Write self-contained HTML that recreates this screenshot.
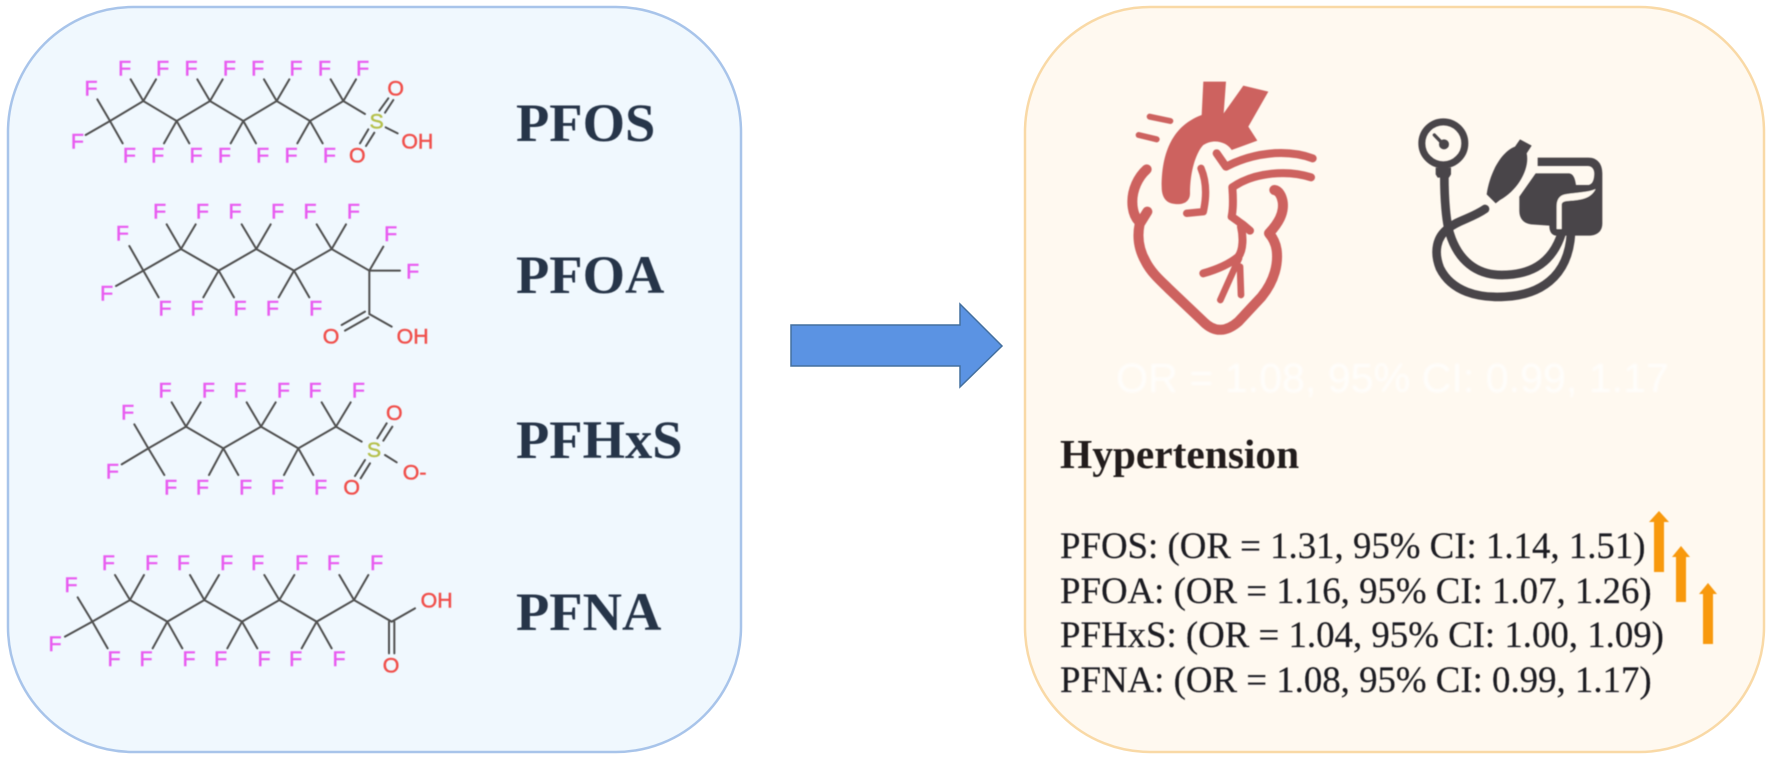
<!DOCTYPE html>
<html>
<head>
<meta charset="utf-8">
<style>
html,body{margin:0;padding:0;background:#fff;width:1772px;height:760px;overflow:hidden}
svg{display:block}
.b{fill:none;stroke:#4f4f4f;stroke-width:6;stroke-linecap:round}
.f{font-family:"Liberation Sans",sans-serif;font-size:64px;fill:#e85cf0;stroke:#e85cf0;stroke-width:1.6;text-anchor:middle}
.o{font-family:"Liberation Sans",sans-serif;font-size:64px;fill:#f0504c;stroke:#f0504c;stroke-width:1.4;text-anchor:middle}
.s{font-family:"Liberation Sans",sans-serif;font-size:64px;fill:#b5c04c;stroke:#b5c04c;stroke-width:1.4;text-anchor:middle}
.lab{font-family:"Liberation Serif",serif;font-weight:bold;font-size:54.5px;fill:#263448}
.t{font-family:"Liberation Serif",serif;font-size:36.85px;fill:#1f1f24;stroke:#1f1f24;stroke-width:.2}
</style>
</head>
<body>
<svg width="1772" height="760" viewBox="0 0 1772 760" xmlns="http://www.w3.org/2000/svg">
<defs><filter id="soft" x="-5%" y="-5%" width="110%" height="110%"><feGaussianBlur stdDeviation="0.45"/></filter>
<filter id="ghost" x="-5%" y="-20%" width="110%" height="140%"><feGaussianBlur stdDeviation="1"/></filter></defs>
<rect width="1772" height="760" fill="#fff"/>
<rect x="8" y="7" width="733" height="745" rx="125" ry="125" fill="#f0f8fe" stroke="#a8c4ea" stroke-width="2.5"/>
<rect x="1025" y="7" width="739" height="745" rx="125" ry="125" fill="#fff9f0" stroke="#f9d9a6" stroke-width="2.5"/>

<polygon points="791,325 960,325 960,304 1002,346 960,387 960,366 791,366" fill="#5b93e3" stroke="#44709f" stroke-width="1.5"/>

<g filter="url(#soft)">
<!-- PFOS / PFOA -->
<g transform="translate(40,40) scale(.33333)">
<path class="b" d="M210 243L310 183L410 243L510 183L610 243L710 183L810 243L910 183L975 222
M210 243L172 178M210 243L137 285M210 243L248 310
M310 183L272 118M310 183L348 118M410 243L372 310M410 243L448 310
M510 183L472 118M510 183L548 118M610 243L572 310M610 243L648 310
M710 183L672 118M710 183L748 118M810 243L772 310M810 243L848 310
M910 183L872 118M910 183L948 118"/>
<path class="b" d="M1018 212L1045 175M1035 218L1060 180M960 310L985 268M978 318L1003 278M1037 262L1073 280"/>
<g transform="translate(0,23)">
<text class="f" x="153" y="143">F</text><text class="f" x="112" y="303">F</text><text class="f" x="268" y="345">F</text>
<text class="f" x="254" y="83">F</text><text class="f" x="368" y="83">F</text><text class="f" x="353" y="345">F</text><text class="f" x="468" y="345">F</text>
<text class="f" x="453" y="83">F</text><text class="f" x="568" y="83">F</text><text class="f" x="553" y="345">F</text><text class="f" x="668" y="345">F</text>
<text class="f" x="653" y="83">F</text><text class="f" x="768" y="83">F</text><text class="f" x="753" y="345">F</text><text class="f" x="868" y="345">F</text>
<text class="f" x="853" y="83">F</text><text class="f" x="968" y="83">F</text>
<text class="s" x="1010" y="243">S</text><text class="o" x="1067" y="143">O</text><text class="o" x="952" y="345">O</text><text class="o" x="1132" y="303">OH</text>
</g>
<path class="b" d="M310 692L423 627L536 692L649 627L762 692L875 627L988 692L988 822L1055 860
M310 692L268 618M310 692L228 738M310 692L356 772
M423 627L380 553M423 627L467 553M536 692L490 772M536 692L582 772
M649 627L605 553M649 627L692 553M762 692L716 772M762 692L808 772
M875 627L830 553M875 627L918 553M988 692L1030 620M988 692L1080 692
M905 855L975 815M915 872L985 832"/>
<g transform="translate(0,23)">
<text class="f" x="247" y="578">F</text><text class="f" x="200" y="758">F</text><text class="f" x="375" y="803">F</text>
<text class="f" x="359" y="513">F</text><text class="f" x="487" y="513">F</text><text class="f" x="471" y="803">F</text><text class="f" x="600" y="803">F</text>
<text class="f" x="585" y="513">F</text><text class="f" x="713" y="513">F</text><text class="f" x="697" y="803">F</text><text class="f" x="827" y="803">F</text>
<text class="f" x="810" y="513">F</text><text class="f" x="940" y="513">F</text><text class="f" x="1052" y="580">F</text><text class="f" x="1118" y="692">F</text>
<text class="o" x="873" y="888">O</text><text class="o" x="1118" y="888">OH</text>
</g>
</g>
<!-- PFHxS / PFNA -->
<g transform="translate(40,370) scale(.33333)">
<path class="b" d="M325 235L438 170L550 235L663 170L775 235L888 170L965 215
M325 235L283 163M325 235L245 283M325 235L373 315
M438 170L395 97M438 170L482 97M550 235L507 315M550 235L595 315
M663 170L620 97M663 170L707 97M775 235L732 315M775 235L820 315
M888 170L845 97M888 170L932 97
M1012 205L1040 160M1030 212L1057 170M945 318L975 270M962 325L990 280M1035 255L1070 277"/>
<g transform="translate(0,23)">
<text class="f" x="263" y="125">F</text><text class="f" x="217" y="303">F</text><text class="f" x="392" y="350">F</text>
<text class="f" x="375" y="60">F</text><text class="f" x="505" y="60">F</text><text class="f" x="487" y="350">F</text><text class="f" x="617" y="350">F</text>
<text class="f" x="600" y="60">F</text><text class="f" x="730" y="60">F</text><text class="f" x="712" y="350">F</text><text class="f" x="842" y="350">F</text>
<text class="f" x="825" y="60">F</text><text class="f" x="955" y="60">F</text>
<text class="s" x="1002" y="238">S</text><text class="o" x="1063" y="127">O</text><text class="o" x="935" y="350">O</text><text class="o" x="1124" y="305">O-</text>
</g>
<path class="b" d="M157 755L270 690L382 755L493 690L606 755L718 690L830 755L942 690L1055 755L1125 715
M157 755L113 682M157 755L75 800M157 755L203 835
M270 690L225 615M270 690L312 615M382 755L338 835M382 755L427 835
M493 690L450 615M493 690L537 615M606 755L562 835M606 755L652 835
M718 690L673 615M718 690L763 615M830 755L785 835M830 755L875 835
M942 690L898 615M942 690L985 615
M1047 755L1047 850M1063 755L1063 850"/>
<g transform="translate(0,23)">
<text class="f" x="93" y="643">F</text><text class="f" x="45" y="820">F</text><text class="f" x="222" y="865">F</text>
<text class="f" x="205" y="577">F</text><text class="f" x="335" y="577">F</text><text class="f" x="318" y="865">F</text><text class="f" x="447" y="865">F</text>
<text class="f" x="430" y="577">F</text><text class="f" x="560" y="577">F</text><text class="f" x="542" y="865">F</text><text class="f" x="672" y="865">F</text>
<text class="f" x="653" y="577">F</text><text class="f" x="785" y="577">F</text><text class="f" x="767" y="865">F</text><text class="f" x="897" y="865">F</text>
<text class="f" x="880" y="577">F</text><text class="f" x="1010" y="577">F</text>
<text class="o" x="1190" y="690">OH</text><text class="o" x="1053" y="885">O</text>
</g>
</g>

<text class="lab" x="516" y="141">PFOS</text>
<text class="lab" x="516" y="293">PFOA</text>
<text class="lab" x="516" y="458">PFHxS</text>
<text class="lab" x="516" y="630">PFNA</text>

<!-- Heart -->
<g transform="translate(1115,70) scale(.33333)">
<g fill="none" stroke="#cd625f" stroke-linecap="round" stroke-linejoin="round">
<path stroke-width="18" d="M104 140L166 153M71 195L125 208"/>
<path stroke-width="30" d="M95 298C68 322 52 360 52 395C52 425 60 442 72 455"/>
<path stroke-width="30" d="M97 425L74 462C66 500 72 540 92 575C110 610 140 635 160 655L265 755C300 790 335 785 370 755L440 680C480 630 490 580 485 540C482 520 475 505 462 490C490 460 508 430 503 395C500 378 492 362 478 360"/>
<path stroke-width="24" d="M305 250L333 290C410 250 510 235 593 265"/>
<path stroke-width="24" d="M588 322C520 300 420 305 352 352C355 390 355 415 350 440L385 465L405 482"/>
<path stroke-width="24" d="M378 470C385 500 385 540 370 560C340 585 300 600 265 610"/>
<path stroke-width="20" d="M372 565L316 690M375 590L378 675"/>
<path stroke-width="22" d="M258 295C275 335 275 380 265 425L215 430"/>
</g>
<path fill="#cd625f" d="M265 35L333 35L326 130L385 47L460 65L400 170L427 212L350 240C335 215 295 205 265 225C245 245 225 300 225 370C225 395 205 405 180 402C155 400 140 385 140 350C140 260 165 170 260 135Z"/>
</g>

<!-- Blood pressure cuff -->
<g transform="translate(1405,105) scale(.33333)">
<g fill="none" stroke="#4a4548" stroke-linecap="round">
<circle cx="115" cy="115" r="64.5" stroke-width="21"/>
<path stroke-width="10" d="M88 90L115 118"/>
<path stroke-width="26" d="M118 210C118 270 120 320 130 370C150 450 200 510 290 510C370 510 440 480 470 385"/>
<path stroke-width="26" d="M240 312C200 340 160 345 130 370C95 395 85 440 105 490C140 560 220 580 300 575C400 570 490 520 498 385"/>
</g>
<circle cx="117" cy="118" r="15" fill="#4a4548"/>
<path fill="#4a4548" d="M92 188H138V208L132 218H98L92 208Z"/>
<path fill="#4a4548" d="M245 268C255 200 290 140 330 125L345 103L380 122L365 145C375 190 340 255 285 285L272 295Z"/>
<path fill="#4a4548" d="M398 158H550C578 158 592 178 592 205V355C592 380 575 392 550 392H455C440 392 433 380 433 362L378 358C355 355 343 340 343 318V275L392 205H490C505 205 510 220 513 240H548C562 240 568 225 568 205C568 192 560 183 548 183H398Z"/>
<path fill="#fff9f0" d="M572 252C550 262 520 262 480 268C462 272 455 285 455 305V372H470V300C470 292 475 290 485 288C520 285 555 285 572 252Z"/>
</g>

<text x="1116" y="392" font-family="'Liberation Sans',sans-serif" font-size="41.2" fill="#ffffff" opacity=".8" filter="url(#ghost)">OR = 1.08, 95% CI: 0.99, 1.17</text>

<text x="1060" y="468" font-family="'Liberation Serif',serif" font-weight="bold" font-size="41.4" fill="#211d1b">Hypertension</text>
<text class="t" x="1060" y="558">PFOS: (OR = 1.31, 95% CI: 1.14, 1.51)</text>
<text class="t" x="1060" y="603">PFOA: (OR = 1.16, 95% CI: 1.07, 1.26)</text>
<text class="t" x="1060" y="647">PFHxS: (OR = 1.04, 95% CI: 1.00, 1.09)</text>
<text class="t" x="1060" y="692">PFNA: (OR = 1.08, 95% CI: 0.99, 1.17)</text>

<polygon points="1659,511 1669,522 1664,522 1664,572 1654,572 1654,522 1649,522" fill="#f8990f"/>
<polygon points="1681,546 1690,557 1686,557 1686,602 1676,602 1676,557 1672,557" fill="#f8990f"/>
<polygon points="1708,583 1717,594 1713,594 1713,644 1703,644 1703,594 1699,594" fill="#f8990f"/>
</g>
</svg>
</body>
</html>
